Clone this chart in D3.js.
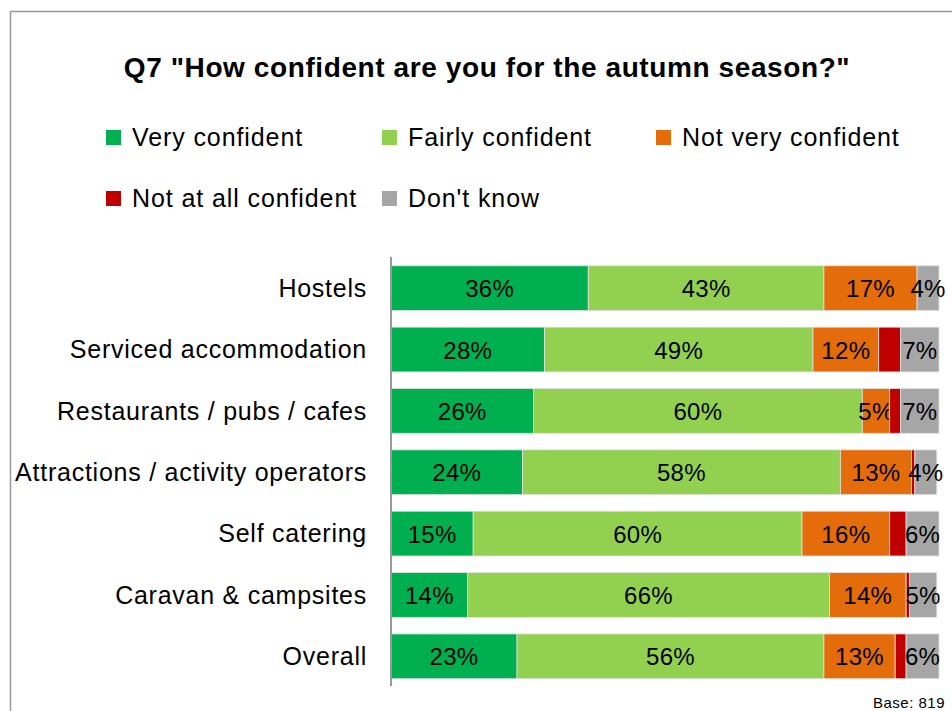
<!DOCTYPE html>
<html>
<head>
<meta charset="utf-8">
<script src="https://cdn.jsdelivr.net/npm/d3@7"></script>
<style>
  body { margin: 0; background: #fff; }
  svg { display: block; font-family: "Liberation Sans", Arial, sans-serif; }
</style>
</head>
<body>
<div id="chart"></div>
<script>
// categories, top to bottom
var categories = ["Hostels", "Serviced accommodation", "Restaurants  / pubs / cafes",
                  "Attractions / activity operators", "Self catering", "Caravan & campsites", "Overall"];

var seriesNames = ["Very confident", "Fairly confident", "Not very confident", "Not at all confident", "Don't know"];
var seriesColors = ["#00B050", "#92D050", "#E46C0A", "#C00000", "#A6A6A6"];

// values per series (percent), in category order
var veryConfident   = [36, 28, 26, 24, 15, 14, 23];
var fairlyConfident = [43, 49, 60, 58, 60, 66, 56];
var notVery         = [17, 12, 5, 13, 16, 14, 13];
var notAtAll        = [0, 4, 2, 0.6, 3, 0.6, 2];
var dontKnow        = [4, 7, 7, 4, 6, 5, 6];

var seriesValues = [veryConfident, fairlyConfident, notVery, notAtAll, dontKnow];
// red series has no data labels in the original
var showLabel = [true, true, true, false, true];

var width = 952, height = 711;

var svg = d3.select("#chart").append("svg")
    .attr("width", width)
    .attr("height", height);

// outer frame (left + top edges visible)
svg.append("path")
    .attr("d", "M10.5," + height + " V11.5 H" + width)
    .attr("fill", "none")
    .attr("stroke", "#9a9a9a")
    .attr("stroke-width", 1.5);

// title
svg.append("text")
    .attr("x", 487)
    .attr("y", 77)
    .attr("text-anchor", "middle")
    .style("font-size", "28px")
    .style("letter-spacing", "0.6px")
    .style("font-weight", "bold")
    .text('Q7 "How confident are you for the autumn season?"');

// legend
var legendPos = [[106, 130], [382, 130], [656, 130], [106, 191], [382, 191]];
var legend = svg.append("g").selectAll("g")
    .data(seriesNames)
    .join("g")
    .attr("transform", function(d, i) { return "translate(" + legendPos[i][0] + "," + legendPos[i][1] + ")"; });

legend.append("rect")
    .attr("width", 15)
    .attr("height", 15)
    .attr("fill", function(d, i) { return seriesColors[i]; });

legend.append("text")
    .attr("x", 26)
    .attr("y", 16)
    .style("font-size", "25px")
    .style("letter-spacing", "0.9px")
    .text(function(d) { return d; });

// scales
var x = d3.scaleLinear().domain([0, 100]).range([391, 939]);
var y = d3.scaleBand().domain(categories).range([257.5, 687]).paddingInner(0.27).paddingOuter(0.135);

// stack data
var rows = categories.map(function(c, i) {
    var r = { cat: c };
    seriesNames.forEach(function(s, j) { r[s] = seriesValues[j][i]; });
    return r;
});
var stacked = d3.stack().keys(seriesNames)(rows);

var layers = svg.append("g").selectAll("g")
    .data(stacked)
    .join("g")
    .attr("fill", function(d, i) { return seriesColors[i]; });

layers.selectAll("rect")
    .data(function(d) { return d; })
    .join("rect")
    .attr("x", function(d) { return x(d[0]); })
    .attr("y", function(d) { return y(d.data.cat); })
    .attr("width", function(d) { return x(d[1]) - x(d[0]); })
    .attr("height", y.bandwidth())
    .attr("stroke", "#e2e2e2")
    .attr("stroke-width", 0.8);

// data labels
layers.each(function(layer, li) {
    if (!showLabel[li]) return;
    d3.select(this).selectAll("text")
        .data(layer)
        .join("text")
        .attr("x", function(d) { return (x(d[0]) + x(d[1])) / 2; })
        .attr("y", function(d) { return y(d.data.cat) + y.bandwidth() / 2 + 9; })
        .attr("text-anchor", "middle")
        .attr("fill", "#000")
        .style("font-size", "24px")
        .style("letter-spacing", "0.3px")
        .text(function(d) { return Math.round(d[1] - d[0]) + "%"; });
});

// category axis
var yAxis = svg.append("g")
    .attr("transform", "translate(391,0)")
    .call(d3.axisLeft(y).tickSize(0).tickPadding(24));
yAxis.select(".domain")
    .attr("d", "M0,257 V686")
    .attr("stroke", "#999")
    .attr("stroke-width", 2);
yAxis.selectAll("text")
    .attr("fill", "#000")
    .style("font-size", "25px")
    .style("letter-spacing", "0.75px")
    .style("font-family", "'Liberation Sans', Arial, sans-serif")
    .attr("dy", "0.35em");

// base note
svg.append("text")
    .attr("x", 945)
    .attr("y", 708)
    .attr("text-anchor", "end")
    .style("font-size", "15px")
    .style("letter-spacing", "0.5px")
    .text("Base: 819");
</script>
</body>
</html>
